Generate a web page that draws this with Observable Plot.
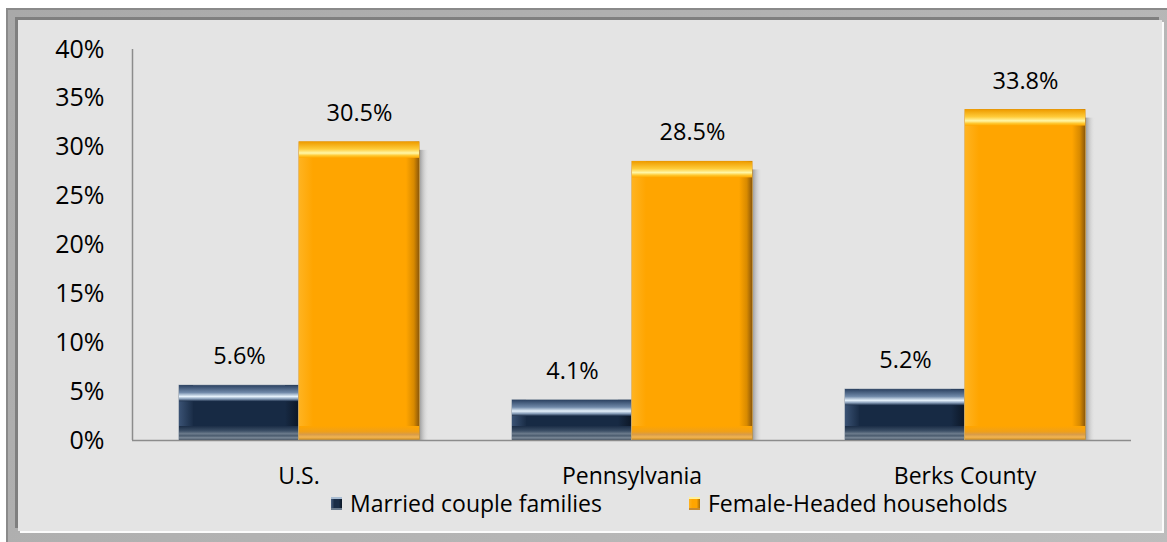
<!DOCTYPE html>
<html>
<head>
<meta charset="utf-8">
<script src="https://cdn.jsdelivr.net/npm/d3@7"></script>
<script src="https://cdn.jsdelivr.net/npm/@observablehq/plot@0.6"></script>
<style>
  html, body { margin: 0; padding: 0; background: #ffffff; width: 1167px; height: 542px; overflow: hidden; font-family: "Open Sans", sans-serif; }
  #frame { position: absolute; left: 6px; top: 8px; width: 1170px; height: 545px; background: linear-gradient(135deg, #a9a9a9, #bdbdbd); border-left: 2px solid #8a8a8a; border-top: 2px solid #8a8a8a; }
  #inner { position: absolute; left: 18px; top: 20px; width: 1144px; height: 511px; background: #e4e4e4; box-shadow: -3px -3px 0 #7f7f7f, 2px 2px 0 #fbfbfb; }
  #chart { position: absolute; left: 0; top: 0; }
  #legend { position: absolute; top: 487px; left: 0; width: 1167px; height: 32px; font-size: 23px; color: #000; }
  .item { position: absolute; top: 0; display: flex; align-items: center; height: 32px; }
  .sw { width: 11px; height: 13px; margin-right: 8px; }
</style>
</head>
<body>
<svg width="0" height="0" style="position:absolute">
  <defs>
    <linearGradient id="navyTop" x1="0" y1="0" x2="0" y2="1">
      <stop offset="0" stop-color="#2c4262"/>
      <stop offset="0.45" stop-color="#6f88a8"/>
      <stop offset="0.7" stop-color="#e6f2fc"/>
      <stop offset="0.85" stop-color="#8aa0bb"/>
      <stop offset="1" stop-color="#1c2f4a"/>
    </linearGradient>
    <linearGradient id="navyBottom" x1="0" y1="0" x2="0" y2="1">
      <stop offset="0" stop-color="#1b2d46"/>
      <stop offset="0.35" stop-color="#3c4f66"/>
      <stop offset="0.55" stop-color="#6c7b8c"/>
      <stop offset="0.7" stop-color="#4a5b6e"/>
      <stop offset="0.85" stop-color="#7e8b99"/>
      <stop offset="1" stop-color="#34455a"/>
    </linearGradient>
    <linearGradient id="navyLeft" x1="0" y1="0" x2="1" y2="0">
      <stop offset="0" stop-color="#3a5274"/>
      <stop offset="1" stop-color="#1a2d47"/>
    </linearGradient>
    <linearGradient id="navyRight" x1="0" y1="0" x2="1" y2="0">
      <stop offset="0" stop-color="#172a44"/>
      <stop offset="1" stop-color="#0d1828"/>
    </linearGradient>
    <linearGradient id="orTop" x1="0" y1="0" x2="0" y2="1">
      <stop offset="0" stop-color="#ee9c00"/>
      <stop offset="0.45" stop-color="#ffcc3a"/>
      <stop offset="0.7" stop-color="#fff7a8"/>
      <stop offset="0.86" stop-color="#ffc830"/>
      <stop offset="1" stop-color="#ffa800"/>
    </linearGradient>
    <linearGradient id="orBottom" x1="0" y1="0" x2="0" y2="1">
      <stop offset="0" stop-color="#ffa500"/>
      <stop offset="0.4" stop-color="#f0a018"/>
      <stop offset="0.6" stop-color="#d89c48"/>
      <stop offset="0.8" stop-color="#f2b450"/>
      <stop offset="1" stop-color="#c8891e"/>
    </linearGradient>
    <linearGradient id="orLeft" x1="0" y1="0" x2="1" y2="0">
      <stop offset="0" stop-color="#ffb320"/>
      <stop offset="1" stop-color="#ffa500"/>
    </linearGradient>
    <linearGradient id="orRight" x1="0" y1="0" x2="1" y2="0">
      <stop offset="0" stop-color="#ffa500"/>
      <stop offset="0.6" stop-color="#d88a00"/>
      <stop offset="1" stop-color="#8e5a0a"/>
    </linearGradient>
    <linearGradient id="shadow" x1="0" y1="0" x2="1" y2="0">
      <stop offset="0" stop-color="#8a8a8a" stop-opacity="0.9"/>
      <stop offset="1" stop-color="#e4e4e4" stop-opacity="0"/>
    </linearGradient>
  </defs>
</svg>
<div id="frame"></div>
<div id="inner"></div>
<div id="chart"></div>
<div id="legend">
  <div class="item" style="left:331px"><span class="sw" style="background:linear-gradient(90deg,#4a6080 0%,#1a2d47 30%,#1a2d47 70%,#0d1828 100%);box-shadow: inset 0 2px 0 #a8bcd2, inset 0 -2px 0 #6a7a8c;"></span>Married couple families</div>
  <div class="item" style="left:689px"><span class="sw" style="background:linear-gradient(90deg,#ffb320 0%,#ffa500 30%,#ffa500 70%,#a86c08 100%);box-shadow: inset 0 2px 0 #fff09a, inset 0 -2px 0 #c88a30;"></span>Female-Headed households</div>
</div>
<script>
const regions = ["U.S.", "Pennsylvania", "Berks County"];
const married = [5.6, 4.1, 5.2];
const female = [30.5, 28.5, 33.8];
const yTicks = [0, 5, 10, 15, 20, 25, 30, 35, 40];

const rowsM = regions.map((r, i) => ({region: r, value: married[i]}));
const rowsF = regions.map((r, i) => ({region: r, value: female[i]}));

// band = 333px; married bar occupies 47..167, female 167..287 within band
const BW = 333;
const mL = 47, mR = BW - 166;
const fL = 167, fR = BW - 287;

function bevel(rows, L, R, ids, opts = {}) {
  const w = BW - L - R;
  return [
    Plot.barY(rows, {x: "region", y: "value", insetLeft: L, insetRight: R, fill: opts.fill, stroke: opts.stroke, strokeWidth: 1}),
    Plot.barY(rows, {x: "region", y: "value", insetLeft: L, insetRight: R + w - 14, fill: `url(#${ids}Left)`}),
    Plot.barY(rows, {x: "region", y: "value", insetLeft: L + w - 13, insetRight: R, fill: `url(#${ids}Right)`}),
    Plot.barY(rows, {x: "region", y1: "value", y2: "value", insetBottom: -16, insetLeft: L, insetRight: R, fill: `url(#${ids}Top)`}),
    Plot.barY(rows, {x: "region", y1: 0, y2: 0, insetTop: -14, insetLeft: L, insetRight: R, fill: `url(#${ids}Bottom)`})
  ];
}

const chart = Plot.plot({
  width: 1167,
  height: 500,
  marginLeft: 132,
  marginRight: 36,
  marginTop: 49,
  marginBottom: 60,
  style: {background: "transparent", fontFamily: "Open Sans, sans-serif", color: "#000"},
  x: {domain: regions, padding: 0, label: null},
  y: {domain: [0, 40], label: null},
  marks: [
    Plot.axisY({ticks: yTicks, tickFormat: d => d + "%", tickSize: 0, tickPadding: 28, fontSize: 25, label: null}),
    Plot.axisX({tickSize: 0, tickPadding: 27, fontSize: 23, label: null}),
    // shadow to the right of the orange bars
    Plot.barY(rowsF, {x: "region", y: "value", insetLeft: BW - fR, insetRight: fR - 10, insetTop: 8, fill: "url(#shadow)"}),
    ...bevel(rowsM, mL, mR, "navy", {fill: "#172a44", stroke: "#8593a3"}),
    ...bevel(rowsF, fL, fR, "or", {fill: "#ffa500", stroke: "#e09000"}),
    Plot.ruleY([0], {stroke: "#8c8c8c", strokeWidth: 1.5}),
    Plot.ruleX([0], {x: () => regions[0], dx: -166.5, y1: 0, y2: 40, stroke: "#8c8c8c", strokeWidth: 1.5}),
    Plot.text(rowsM, {x: "region", y: "value", text: d => d.value.toFixed(1) + "%", dx: -59.5, dy: -29, fontSize: 23.5, fill: "#000"}),
    Plot.text(rowsF, {x: "region", y: "value", text: d => d.value.toFixed(1) + "%", dx: 60.5, dy: -29, fontSize: 23.5, fill: "#000"})
  ]
});
document.getElementById("chart").appendChild(chart);
</script>
</body>
</html>
